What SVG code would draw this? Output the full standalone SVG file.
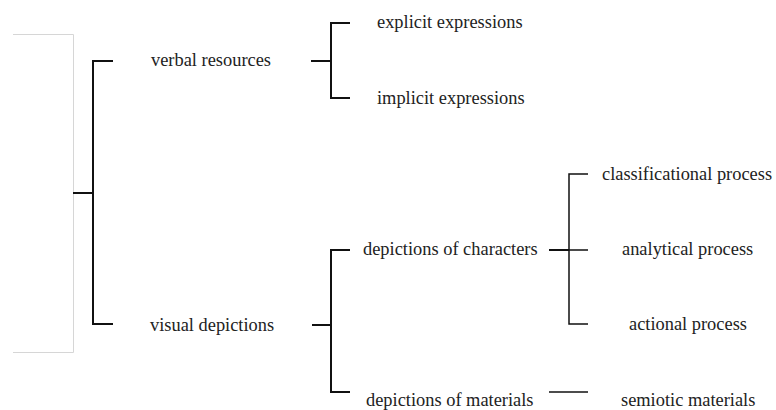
<svg xmlns="http://www.w3.org/2000/svg" width="776" height="410" viewBox="0 0 776 410">
<style>
.t{font-family:"Liberation Serif","Times New Roman",serif;font-size:18.4px;fill:#222}
.c{fill:none;stroke:#111;stroke-width:2}
.c2{fill:none;stroke:#111;stroke-width:1.5}
.f{fill:none;stroke:#d6d6d6;stroke-width:1}
</style>
<rect width="776" height="410" fill="#fff"/>
<path class="f" d="M13,34.5 H73.5 V352.5 H13"/>
<g id="connectors">
<path class="c" d="M73,193 H93 M113,61 H93 V324 H113"/>
<path class="c" d="M311,61 H331 M350,23 H331 V98 H350"/>
<path class="c" d="M312,325 H331 M350,250 H331 V392 H350"/>
<path class="c" d="M549,250 H569"/>
<path class="c2" d="M588,174 H569 V324 H588 M569,250 H588"/>
<path class="c2" d="M549,392 H588"/>
</g>
<g id="verbal"><text class="t" x="151" y="66">verbal resources</text></g>
<g id="visual"><text class="t" x="150" y="331">visual depictions</text></g>
<g id="explicit"><text class="t" x="377" y="28">explicit expressions</text></g>
<g id="implicit"><text class="t" x="377" y="104">implicit expressions</text></g>
<g id="characters"><text class="t" x="363" y="255">depictions of characters</text></g>
<g id="materials"><text class="t" x="366" y="406">depictions of materials</text></g>
<g id="classificational"><text class="t" x="602" y="180">classificational process</text></g>
<g id="analytical"><text class="t" x="622" y="255">analytical process</text></g>
<g id="actional"><text class="t" x="629" y="330">actional process</text></g>
<g id="semiotic"><text class="t" x="621" y="406">semiotic materials</text></g>
</svg>
